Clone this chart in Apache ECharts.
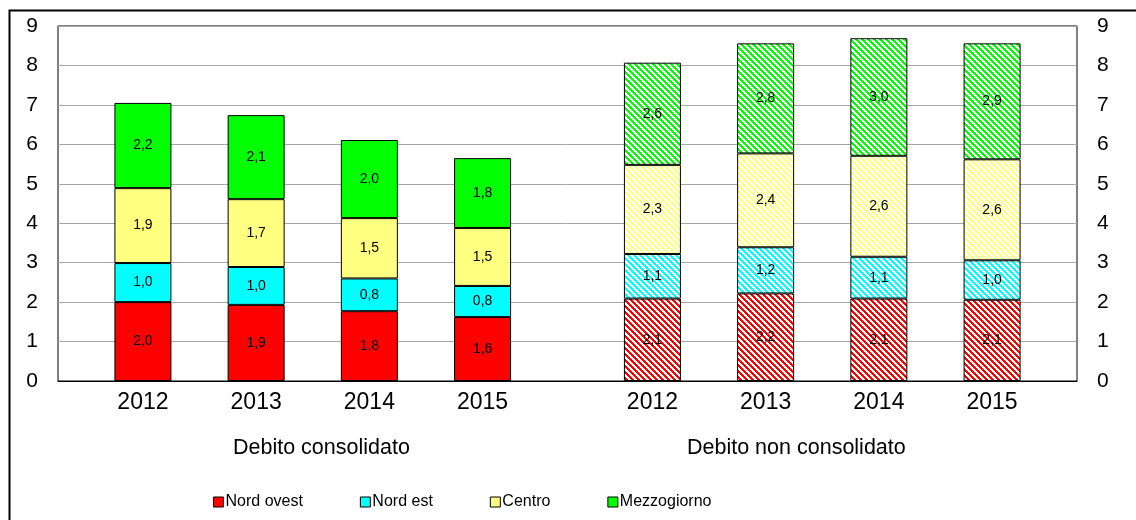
<!DOCTYPE html>
<html>
<head>
<meta charset="utf-8">
<script src="https://cdn.jsdelivr.net/npm/echarts@6/dist/echarts.min.js"></script>
<style>
html,body{margin:0;padding:0;background:#fff;}
#chart{width:1136px;height:520px;}
</style>
</head>
<body>
<div id="chart"></div>
<script>
// ---- data ----
const years = ['2012', '2013', '2014', '2015'];
const groupLabels = ['Debito consolidato', 'Debito non consolidato'];
const seriesNames = ['Nord ovest', 'Nord est', 'Centro', 'Mezzogiorno'];
// Debito consolidato
const nordOvestCons = [2.00, 1.93, 1.77, 1.62];
const nordEstCons = [0.99, 0.96, 0.83, 0.79];
const centroCons = [1.90, 1.72, 1.53, 1.47];
const mezzogiornoCons = [2.16, 2.13, 1.98, 1.77];
// Debito non consolidato
const nordOvestNon = [2.09, 2.22, 2.09, 2.06];
const nordEstNon = [1.13, 1.17, 1.06, 1.00];
const centroNon = [2.26, 2.38, 2.56, 2.56];
const mezzogiornoNon = [2.59, 2.79, 2.98, 2.94];
const yTicks = [0, 1, 2, 3, 4, 5, 6, 7, 8, 9];

const colors = ['#FF0000', '#00FFFF', '#FFFF80', '#00FF00'];

// layout: 18 half-slots, bars at these slot indices
const consSlots = [1, 3, 5, 7];
const nonSlots = [10, 12, 14, 16];
const nSlots = 18;

const categories = new Array(nSlots).fill('');
consSlots.forEach((s, i) => categories[s] = years[i]);
nonSlots.forEach((s, i) => categories[s] = years[i]);

function makePattern(color) {
  const c = document.createElement('canvas');
  c.width = 12; c.height = 12;
  const ctx = c.getContext('2d');
  ctx.fillStyle = color;
  ctx.fillRect(0, 0, 12, 12);
  ctx.fillStyle = '#ffffff';
  for (let x = 0; x < 12; x++) {
    for (let y = 0; y < 12; y++) {
      const d = (((x - y) % 6) + 6) % 6;
      if (d >= 3) ctx.fillRect(x, y, 1, 1);
    }
  }
  return { image: c, repeat: 'repeat' };
}

const consData = [nordOvestCons, nordEstCons, centroCons, mezzogiornoCons];
const nonData = [nordOvestNon, nordEstNon, centroNon, mezzogiornoNon];

const series = seriesNames.map((name, k) => {
  const data = new Array(nSlots).fill('-');
  consSlots.forEach((s, i) => data[s] = consData[k][i]);
  const pat = makePattern(colors[k]);
  nonSlots.forEach((s, i) => data[s] = { value: nonData[k][i], itemStyle: { color: pat } });
  return {
    name: name,
    type: 'bar',
    stack: 'total',
    barWidth: 57,
    data: data,
    itemStyle: { color: colors[k], borderColor: '#000', borderWidth: 1 },
    label: {
      show: true,
      position: 'inside',
      color: '#000',
      fontFamily: 'Arial',
      fontSize: 14,
      formatter: p => (typeof p.value === 'number') ? p.value.toFixed(1).replace('.', ',') : ''
    },
    emphasis: { disabled: true }
  };
});

const chart = echarts.init(document.getElementById('chart'), null, { renderer: 'canvas' });
chart.setOption({
  animation: false,
  backgroundColor: '#fff',
  grid: { left: 58, right: 59, top: 26, bottom: 139, show: true, borderColor: '#000', borderWidth: 1, containLabel: false },
  legend: {
    data: seriesNames,
    left: 213,
    top: 494,
    padding: 0,
    itemWidth: 10,
    itemHeight: 10,
    itemGap: 57,
    icon: 'rect',
    textStyle: { fontFamily: 'Arial', fontSize: 16, color: '#000', padding: [0, 0, 0, -3] },
    itemStyle: { borderColor: '#000', borderWidth: 1 }
  },
  xAxis: {
    type: 'category',
    data: categories,
    axisTick: { show: false },
    axisLine: { show: true, lineStyle: { color: '#000', width: 1.2 } },
    axisLabel: { interval: 0, fontFamily: 'Arial', fontSize: 23, color: '#000', margin: 10 },
    splitLine: { show: false }
  },
  yAxis: [
    {
      type: 'value', min: yTicks[0], max: yTicks[yTicks.length - 1], interval: 1,
      axisLine: { show: false }, axisTick: { show: false },
      axisLabel: { fontFamily: 'Arial', fontSize: 21, color: '#000', margin: 20 },
      splitLine: { show: true, lineStyle: { color: '#a6a6a6', width: 1 } }
    },
    {
      type: 'value', position: 'right', min: yTicks[0], max: yTicks[yTicks.length - 1], interval: 1,
      axisLine: { show: false }, axisTick: { show: false },
      axisLabel: { fontFamily: 'Arial', fontSize: 21, color: '#000', margin: 20 },
      splitLine: { show: false }
    }
  ],
  series: series,
  graphic: [
    { type: 'rect', left: 7, top: 8, shape: { width: 1140, height: 530 }, style: { fill: 'none', stroke: '#000', lineWidth: 2 }, silent: true },
    { type: 'text', left: 233, top: 437, style: { text: groupLabels[0], font: '21.5px Arial', fill: '#000' } },
    { type: 'text', left: 687, top: 437, style: { text: groupLabels[1], font: '21.5px Arial', fill: '#000' } }
  ]
});
</script>
</body>
</html>
